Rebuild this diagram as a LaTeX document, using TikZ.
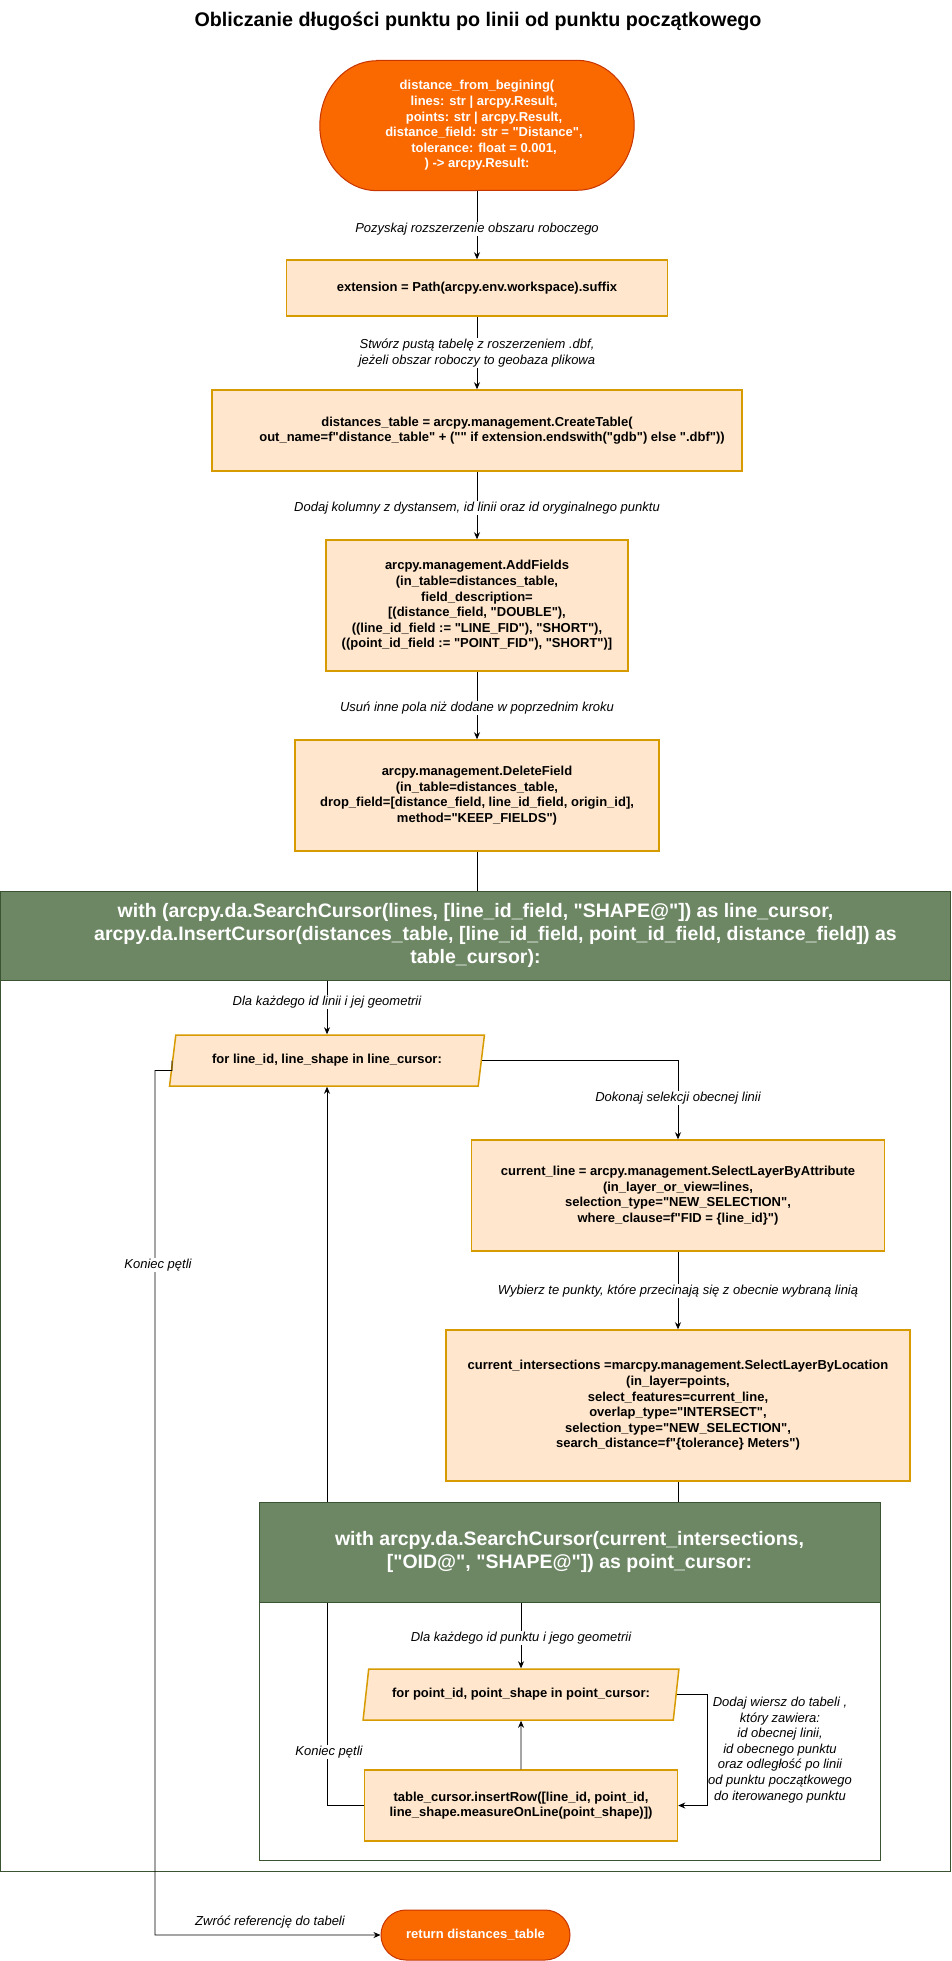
\documentclass[tikz,border=0pt]{standalone}
\usepackage{fontspec}
\setmainfont{Liberation Sans}[Ligatures=TeXOff]
\usetikzlibrary{shapes.geometric,arrows.meta}
\pgfdeclarelayer{bg}
\pgfsetlayers{bg,main}
\definecolor{orfill}{HTML}{FA6800}
\definecolor{orline}{HTML}{C73500}
\definecolor{bxfill}{HTML}{FFE6CC}
\definecolor{bxline}{HTML}{D79B00}
\definecolor{grfill}{HTML}{6D8764}
\definecolor{grline}{HTML}{3A5431}
\begin{document}
\begin{tikzpicture}[x=1pt,y=-1pt,
  proc/.style={draw=bxline, fill=bxfill, line width=1.5pt, align=center, inner sep=2pt,
    font=\fontsize{13}{15.6}\selectfont\bfseries},
  termtext/.style={text=white, align=center, inner sep=0pt,
    font=\fontsize{13}{15.6}\selectfont\bfseries},
  term/.style={termtext, draw=orline, fill=orfill, line width=1pt},
  termshape/.style={draw=orline, fill=orfill, line width=1pt},
  para/.style={proc, trapezium, trapezium left angle=68.6, trapezium right angle=111.4,
    trapezium stretches=true, inner sep=0pt, minimum width=316pt, minimum height=51pt},
  lbl/.style={fill=white, inner sep=1pt, align=center, font=\fontsize{13}{15.6}\selectfont\itshape},
  lblfree/.style={inner sep=1pt, align=center, font=\fontsize{13}{15.6}\selectfont\itshape},
  conn/.style={draw=black, line width=0.8pt, -{Stealth[length=7pt,width=6pt]}},
  plainline/.style={draw=black, line width=0.8pt},
  hdr/.style={fill=grfill, draw=grline, line width=1pt, text=white, align=center, inner sep=0pt,
    font=\fontsize{19.5}{22.8}\selectfont\bfseries},
  cont/.style={draw=grline, line width=1pt, fill=white, inner sep=0pt}
]
\useasboundingbox (0,0) rectangle (951,1961);

% title
\node[font=\fontsize{19.7}{23}\selectfont\bfseries] (title) at (478,21)
  {Obliczanie długości punktu po linii od punktu początkowego};

% containers
\node[cont, minimum width=950pt, minimum height=980pt] (obody) at (475.5,1381) {};
\node[hdr, minimum width=950pt, minimum height=89pt] (ohead) at (475.5,935.5)
  {with (arcpy.da.SearchCursor(lines, [line\_id\_field, "SHAPE@"]) as line\_cursor,\\
   \hspace*{40pt}arcpy.da.InsertCursor(distances\_table, [line\_id\_field, point\_id\_field, distance\_field]) as\\
   table\_cursor):};
\node[cont, fill=none, minimum width=621pt, minimum height=358pt] (ibody) at (569.5,1681) {};

% start terminal (text node + elliptical-ended outline on the background layer)
\node[termtext, minimum width=314pt, minimum height=130pt] (start) at (477,125.5)
  {distance\_from\_begining(\\
   \hspace*{14pt}lines: str | arcpy.Result,\\
   \hspace*{14pt}points: str | arcpy.Result,\\
   \hspace*{14pt}distance\_field: str = "Distance",\\
   \hspace*{14pt}tolerance: float = 0.001,\\
   ) -> arcpy.Result:};
\begin{pgfonlayer}{bg}
  \path[termshape] ([xshift=57pt]start.north west) -- ([xshift=-57pt]start.north east)
    arc[start angle=90, end angle=-90, x radius=57pt, y radius=65pt]
    -- ([xshift=57pt]start.south west)
    arc[start angle=270, end angle=90, x radius=57pt, y radius=65pt] -- cycle;
\end{pgfonlayer}

\node[proc, minimum width=381pt, minimum height=56pt] (box1) at (477,288)
  {extension = Path(arcpy.env.workspace).suffix};
\node[proc, minimum width=530pt, minimum height=81pt] (box2) at (477,430.5)
  {distances\_table = arcpy.management.CreateTable(\\
   \hspace*{30pt}out\_name=f"distance\_table" + ("" if extension.endswith("gdb") else ".dbf"))};
\node[proc, minimum width=302pt, minimum height=131pt] (box3) at (477,605.5)
  {arcpy.management.AddFields\\
   (in\_table=distances\_table,\\
   field\_description=\\\relax
   [(distance\_field, "DOUBLE"),\\
   ((line\_id\_field := "LINE\_FID"), "SHORT"),\\
   ((point\_id\_field := "POINT\_FID"), "SHORT")]};
\node[proc, minimum width=364pt, minimum height=111pt] (box4) at (477,795.5)
  {arcpy.management.DeleteField\\
   (in\_table=distances\_table,\\
   drop\_field=[distance\_field, line\_id\_field, origin\_id],\\
   method="KEEP\_FIELDS")};
\node[para] (para1) at (327,1060.5) {for line\_id, line\_shape in line\_cursor:};
\node[proc, minimum width=413pt, minimum height=111pt] (box5) at (678,1195.5)
  {current\_line = arcpy.management.SelectLayerByAttribute\\
   (in\_layer\_or\_view=lines,\\
   selection\_type="NEW\_SELECTION",\\
   where\_clause=f"FID = \{line\_id\}")};
\node[proc, minimum width=464pt, minimum height=151pt] (box6) at (678,1405.5)
  {current\_intersections =marcpy.management.SelectLayerByLocation\\
   (in\_layer=points,\\
   select\_features=current\_line,\\
   overlap\_type="INTERSECT",\\
   selection\_type="NEW\_SELECTION",\\
   search\_distance=f"\{tolerance\} Meters")};
\node[para] (para2) at (521,1694.5) {for point\_id, point\_shape in point\_cursor:};
\node[proc, minimum width=313pt, minimum height=71pt] (box7) at (521,1805.5)
  {table\_cursor.insertRow([line\_id, point\_id,\\
   line\_shape.measureOnLine(point\_shape)])};
\node[term, rounded corners=24.9pt, minimum width=189pt, minimum height=50pt] (ret) at (475.5,1935)
  {return distances\_table};
\coordinate (lx) at (155,1070.5);

% connectors
\draw[conn] (start.south) -- (box1.north);
\draw[conn] (box1.south) -- (box2.north);
\draw[conn] (box2.south) -- (box3.north);
\draw[conn] (box3.south) -- (box4.north);
\draw[plainline] (box4.south) -- (box4.south |- ohead.north);
\draw[conn] (ohead.south -| para1.north) -- (para1.north);
\draw[conn] (para1.east) -| (box5.north);
\draw[conn] (box5.south) -- (box6.north);
\draw[conn] (para2.east) -- ++(31,0) |- (box7.east);
\draw[conn] (box7.north) -- (para2.south);
\draw[conn] (box7.west) -| (para1.south);
\draw[conn] (para1.west) -- ++(0,10) -- (lx) |- (ret.west);

% inner header on top of the loop line
\node[hdr, minimum width=621pt, minimum height=100pt] (ihead) at (569.5,1552)
  {with arcpy.da.SearchCursor(current\_intersections,\\\relax
   ["OID@", "SHAPE@"]) as point\_cursor:};
\draw[plainline] (box6.south) -- (box6.south |- ihead.north);
\draw[conn] (ihead.south -| para2.north) -- (para2.north);

% labels
\node[lbl] (l1) at (477,229) {Pozyskaj rozszerzenie obszaru roboczego};
\node[lbl] (l2) at (477,353) {Stwórz pustą tabelę z roszerzeniem .dbf,\\ jeżeli obszar roboczy to geobaza plikowa};
\node[lbl] (l3) at (477,508) {Dodaj kolumny z dystansem, id linii oraz id oryginalnego punktu};
\node[lbl] (l4) at (477,708) {Usuń inne pola niż dodane w poprzednim kroku};
\node[lbl] (l5) at (327,1002) {Dla każdego id linii i jej geometrii};
\node[lbl] (l6) at (678,1098) {Dokonaj selekcji obecnej linii};
\node[lbl] (l7) at (678,1291) {Wybierz te punkty, które przecinają się z obecnie wybraną linią};
\node[lbl] (l8) at (521,1638) {Dla każdego id punktu i jego geometrii};
\node[lblfree] (l9) at (780,1750) {Dodaj wiersz do tabeli ,\\ który zawiera:\\ id obecnej linii,\\ id obecnego punktu\\ oraz odległość po linii\\ od punktu początkowego\\ do iterowanego punktu};
\node[lbl] (l10) at (329,1752) {Koniec pętli};
\node[lbl] (l11) at (158,1265) {Koniec pętli};
\node[lblfree] (l12) at (270,1922) {Zwróć referencję do tabeli};
\end{tikzpicture}
\end{document}
